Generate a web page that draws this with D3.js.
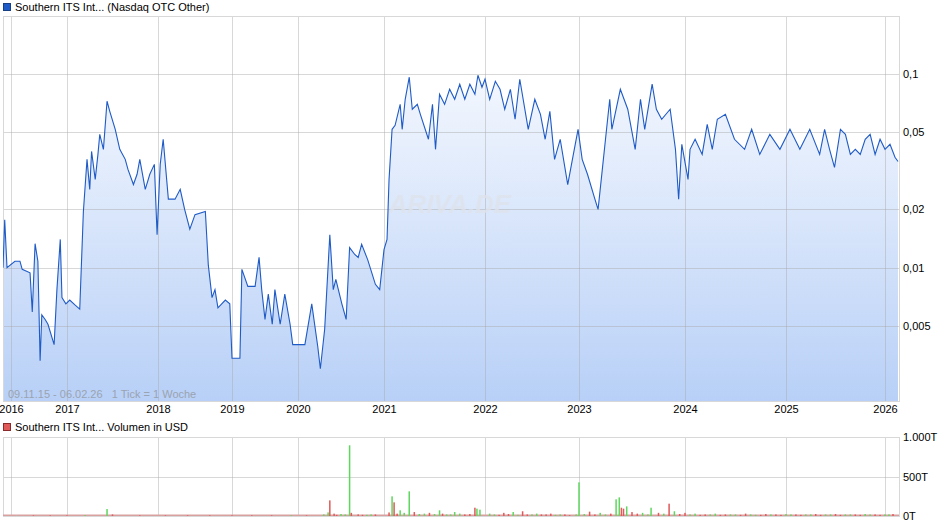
<!DOCTYPE html>
<html><head><meta charset="utf-8">
<script src="https://cdn.jsdelivr.net/npm/d3@7"></script>
<style>body{margin:0;background:#fff}svg{display:block}text{font-family:"Liberation Sans",Arial,sans-serif}</style>
</head><body><svg id="c" width="940" height="526"></svg>
<script>
// ---- data ----
const yearTicks = [2016,2017,2018,2019,2020,2021,2022,2023,2024,2025,2026];
const priceTicks = [0.005,0.01,0.02,0.05,0.1];
const priceTickLabels = ["0,005","0,01","0,02","0,05","0,1"];
const volTicks = [0,500,1000];
const volTickLabels = ["0T","500T","1.000T"];
const priceDates = [2015.86,2015.89,2015.93,2016.07,2016.16,2016.20,2016.34,2016.38,2016.43,2016.48,2016.52,2016.55,2016.61,2016.66,2016.77,2016.82,2016.88,2016.91,2016.98,2017.03,2017.09,2017.14,2017.18,2017.22,2017.25,2017.27,2017.31,2017.34,2017.36,2017.40,2017.44,2017.47,2017.53,2017.58,2017.64,2017.67,2017.73,2017.77,2017.80,2017.86,2017.91,2017.96,2017.99,2018.03,2018.07,2018.14,2018.23,2018.30,2018.36,2018.43,2018.50,2018.64,2018.68,2018.73,2018.77,2018.81,2018.91,2018.97,2019.00,2019.12,2019.15,2019.24,2019.35,2019.41,2019.45,2019.50,2019.55,2019.61,2019.65,2019.73,2019.80,2019.88,2019.92,2020.08,2020.16,2020.23,2020.26,2020.31,2020.37,2020.41,2020.44,2020.51,2020.56,2020.60,2020.66,2020.70,2020.74,2020.81,2020.90,2020.95,2021.00,2021.03,2021.05,2021.08,2021.11,2021.16,2021.18,2021.21,2021.25,2021.28,2021.33,2021.36,2021.44,2021.48,2021.51,2021.55,2021.60,2021.65,2021.70,2021.75,2021.80,2021.85,2021.90,2021.93,2021.97,2022.00,2022.05,2022.11,2022.16,2022.21,2022.27,2022.32,2022.37,2022.46,2022.53,2022.59,2022.64,2022.69,2022.74,2022.80,2022.88,2022.93,2022.99,2023.03,2023.08,2023.15,2023.18,2023.22,2023.25,2023.29,2023.31,2023.39,2023.46,2023.53,2023.58,2023.62,2023.69,2023.73,2023.78,2023.86,2023.91,2023.94,2023.97,2024.03,2024.05,2024.10,2024.17,2024.22,2024.27,2024.32,2024.40,2024.49,2024.59,2024.66,2024.74,2024.84,2024.94,2025.04,2025.14,2025.24,2025.34,2025.39,2025.44,2025.49,2025.55,2025.60,2025.65,2025.70,2025.75,2025.80,2025.85,2025.90,2025.95,2026.00,2026.05,2026.10,2026.13];
const priceValues = [0.0100,0.0177,0.0100,0.0108,0.0108,0.0098,0.0094,0.0059,0.0133,0.0108,0.0033,0.0057,0.0054,0.0051,0.0040,0.0077,0.0140,0.0070,0.0065,0.0068,0.0064,0.0061,0.0195,0.0363,0.0254,0.0399,0.0286,0.0385,0.0489,0.0409,0.0725,0.0643,0.0519,0.0409,0.0363,0.0322,0.0269,0.0304,0.0363,0.0254,0.0304,0.0342,0.0148,0.0342,0.0461,0.0226,0.0226,0.0254,0.0200,0.0158,0.0188,0.0195,0.0103,0.0070,0.0077,0.0062,0.0068,0.0065,0.0034,0.0034,0.0098,0.0080,0.0080,0.0113,0.0077,0.0054,0.0073,0.0051,0.0077,0.0051,0.0073,0.0051,0.0040,0.0040,0.0065,0.0039,0.0030,0.0048,0.0148,0.0077,0.0087,0.0065,0.0054,0.0127,0.0117,0.0113,0.0132,0.0110,0.0082,0.0077,0.0124,0.0140,0.0286,0.0519,0.0544,0.0699,0.0519,0.0742,0.0965,0.0659,0.0699,0.0620,0.0461,0.0699,0.0409,0.0788,0.0699,0.0836,0.0742,0.0888,0.0742,0.0888,0.0788,0.0988,0.0856,0.0942,0.0742,0.0920,0.0836,0.0659,0.0836,0.0585,0.0942,0.0519,0.0742,0.0620,0.0461,0.0643,0.0363,0.0461,0.0269,0.0363,0.0519,0.0363,0.0304,0.0226,0.0200,0.0322,0.0461,0.0742,0.0519,0.0836,0.0659,0.0409,0.0742,0.0519,0.0888,0.0659,0.0585,0.0659,0.0409,0.0226,0.0434,0.0286,0.0409,0.0461,0.0385,0.0551,0.0409,0.0585,0.0620,0.0461,0.0409,0.0519,0.0385,0.0489,0.0409,0.0519,0.0409,0.0519,0.0385,0.0519,0.0409,0.0330,0.0519,0.0489,0.0385,0.0409,0.0385,0.0461,0.0489,0.0385,0.0461,0.0409,0.0434,0.0372,0.0354];
// volume (thousand USD), direction: 1 up (green), -1 down (red), 0 unchanged
const volDates = [2016.1,2016.4,2016.7,2017.0,2017.2,2017.44,2017.5,2017.8,2018.1,2018.4,2018.7,2019.0,2019.3,2019.6,2019.9,2020.1,2020.3,2020.35,2020.37,2020.42,2020.5,2020.6,2020.62,2020.7,2020.8,2020.9,2021.05,2021.08,2021.1,2021.16,2021.2,2021.25,2021.3,2021.4,2021.5,2021.55,2021.58,2021.62,2021.66,2021.7,2021.8,2021.9,2021.92,2021.95,2022.05,2022.2,2022.3,2022.4,2022.5,2022.6,2022.7,2022.8,2022.9,2022.97,2023.0,2023.1,2023.2,2023.3,2023.35,2023.38,2023.4,2023.42,2023.45,2023.5,2023.6,2023.68,2023.75,2023.8,2023.85,2023.9,2024.0,2024.1,2024.2,2024.3,2024.4,2024.5,2024.6,2024.7,2024.8,2024.9,2025.0,2025.1,2025.2,2025.3,2025.4,2025.5,2025.6,2025.7,2025.8,2025.9,2026.0,2026.08,
  2020.45,2020.55,2020.75,2020.85,2021.13,2021.35,2021.45,2021.75,2021.85,2022.1,2022.15,2022.25,2022.35,2022.45,2022.55,2022.65,2022.75,2022.85,2023.05,2023.15,2023.25,2023.55,2023.65,2023.95,2024.05,2024.15,2024.25,2024.35,2024.45,2024.55,2024.65,2024.75,2024.85,2024.95,2025.05,2025.15,2025.25,2025.35,2025.45,2025.55,2025.65,2025.75,2025.85,2025.95,2026.04];
const volValues = [8,8,8,8,10,88,20,8,8,8,8,8,8,8,8,8,20,46,198,30,25,895,40,20,15,20,45,249,173,72,40,312,50,30,25,72,30,20,20,50,20,105,93,80,30,40,50,60,20,20,30,20,10,20,426,55,40,30,211,236,105,93,122,50,40,105,40,30,156,60,40,30,20,30,20,20,30,15,25,20,25,20,20,25,20,25,20,20,25,20,20,25,
  15,20,15,20,30,25,40,30,25,20,15,25,15,20,30,20,15,20,25,20,20,30,20,25,20,15,20,15,20,15,20,15,20,15,20,15,20,15,20,15,20,15,20,15,20];
const volDirs = [0,-1,-1,-1,1,1,-1,-1,-1,-1,-1,-1,-1,-1,1,-1,1,1,-1,-1,1,1,-1,-1,1,-1,-1,1,-1,1,1,1,-1,1,1,1,-1,1,1,1,-1,-1,1,1,1,-1,1,-1,1,-1,-1,1,-1,1,1,-1,1,-1,1,1,-1,-1,1,-1,1,1,-1,1,-1,1,-1,1,-1,1,-1,1,-1,1,-1,-1,1,-1,1,-1,1,-1,1,-1,1,-1,1,-1,
  -1,1,-1,1,-1,1,-1,1,-1,1,-1,-1,1,-1,1,-1,1,-1,1,-1,1,-1,1,-1,1,-1,1,-1,1,-1,1,-1,1,-1,1,-1,1,-1,1,-1,1,-1,1,-1,1];

// ---- layout ----
const svg = d3.select("#c");
const L=3, R=899, T=16, B=401, VT=437, VB=516;
const xDom=[2015.86,...yearTicks,2026.13];
const xRng=[3,11,67,158,232,298,384,485,579,685,786,885,898];
const x=d3.scaleLinear().domain(xDom).range(xRng);
const y=d3.scaleLog().domain([0.002045,0.2]).range([B,T]);
const yv=d3.scaleLinear().domain([0,1000]).range([VB,VT]);
const narrow="'Liberation Sans Narrow','Liberation Sans',sans-serif";

const defs=svg.append("defs");
const g=defs.append("linearGradient").attr("id","fill").attr("x1",0).attr("y1",0).attr("x2",0).attr("y2",1);
g.append("stop").attr("offset","0%").attr("stop-color","#f3f7fe");
g.append("stop").attr("offset","100%").attr("stop-color","#b8d0f7");
defs.append("clipPath").attr("id","cp").append("rect").attr("x",L).attr("y",T).attr("width",R-L).attr("height",B-T);

const pts=priceDates.map((d,i)=>[d,priceValues[i]]);
svg.append("path").datum(pts).attr("clip-path","url(#cp)")
  .attr("d",d3.area().x(d=>x(d[0])).y0(B).y1(d=>y(d[1])))
  .attr("fill","url(#fill)");
const grid=svg.append("g");
grid.selectAll(".vg").data(yearTicks).join("line").attr("x1",d=>x(d)+0.5).attr("x2",d=>x(d)+0.5).attr("y1",T).attr("y2",B).attr("stroke","#a8a8a8").attr("stroke-opacity",0.45);
grid.selectAll(".hg").data(priceTicks).join("line").attr("x1",L).attr("x2",R).attr("y1",d=>Math.round(y(d))+0.5).attr("y2",d=>Math.round(y(d))+0.5).attr("stroke","#a8a8a8").attr("stroke-opacity",0.45);
svg.append("rect").attr("x",L+0.5).attr("y",T+0.5).attr("width",R-L).attr("height",B-T).attr("fill","none").attr("stroke","#d8d8d8");
svg.append("text").attr("x",450).attr("y",213).attr("text-anchor","middle").attr("font-size",26).attr("font-style","italic").attr("font-weight","bold").attr("fill","#dfe4ec").attr("fill-opacity",0.8).text("ARIVA.DE");
svg.append("path").datum(pts).attr("clip-path","url(#cp)")
  .attr("d",d3.line().x(d=>x(d[0])).y(d=>y(d[1])))
  .attr("fill","none").attr("stroke","#1f5bc6").attr("stroke-width",1.1);
const styleAx=a=>{a.select(".domain").remove();a.selectAll("text").attr("font-size",11).attr("fill","#000").attr("font-family",narrow);};
svg.append("g").attr("transform",`translate(${R},0)`).call(d3.axisRight(y).tickValues(priceTicks).tickFormat((d,i)=>priceTickLabels[i]).tickSize(0).tickPadding(4)).call(styleAx);
svg.append("g").attr("transform",`translate(0,${B})`).call(d3.axisBottom(x).tickValues(yearTicks).tickFormat(d3.format("d")).tickSize(0).tickPadding(4)).call(styleAx);
svg.append("text").attr("x",8).attr("y",398).attr("font-size",11).attr("fill","#9aa3b0").attr("font-family",narrow).style("white-space","pre").text("09.11.15 - 06.02.26   1 Tick = 1 Woche");
svg.append("rect").attr("x",3.5).attr("y",3.5).attr("width",7).attr("height",7).attr("fill","#1f5bc6").attr("stroke","#173f85");
svg.append("text").attr("x",15).attr("y",11).attr("font-size",11).text("Southern ITS Int... (Nasdaq OTC Other)");
svg.append("rect").attr("x",3.5).attr("y",423.5).attr("width",7).attr("height",7).attr("fill","#e05a5a").attr("stroke","#8a2a2a");
svg.append("text").attr("x",15).attr("y",431).attr("font-size",11).text("Southern ITS Int... Volumen in USD");

const vg=svg.append("g");
vg.selectAll(".vv").data(yearTicks).join("line").attr("x1",d=>x(d)+0.5).attr("x2",d=>x(d)+0.5).attr("y1",VT).attr("y2",VB).attr("stroke","#a8a8a8").attr("stroke-opacity",0.45);
vg.selectAll(".vh").data(volTicks).join("line").attr("x1",L).attr("x2",R).attr("y1",d=>Math.round(yv(d))+0.5).attr("y2",d=>Math.round(yv(d))+0.5).attr("stroke","#a8a8a8").attr("stroke-opacity",0.45);
svg.append("rect").attr("x",L+0.5).attr("y",VT+0.5).attr("width",R-L).attr("height",VB-VT).attr("fill","none").attr("stroke","#d8d8d8");
const col=d=>d>0?"#5fd65f":d<0?"#e05a5a":"#bbbbbb";
svg.append("rect").attr("x",L).attr("y",VB-1.5).attr("width",R-L).attr("height",1.5).attr("fill","#d9a0a0");
svg.selectAll(".vb").data(volDates).join("rect")
  .attr("x",d=>x(d)-0.75).attr("width",1.5)
  .attr("y",(d,i)=>yv(volValues[i])).attr("height",(d,i)=>VB-yv(volValues[i]))
  .attr("fill",(d,i)=>col(volDirs[i]));
svg.append("g").attr("transform",`translate(${R},0)`).call(d3.axisRight(yv).tickValues(volTicks).tickFormat((d,i)=>volTickLabels[i]).tickSize(0).tickPadding(4)).call(styleAx);
</script></body></html>
